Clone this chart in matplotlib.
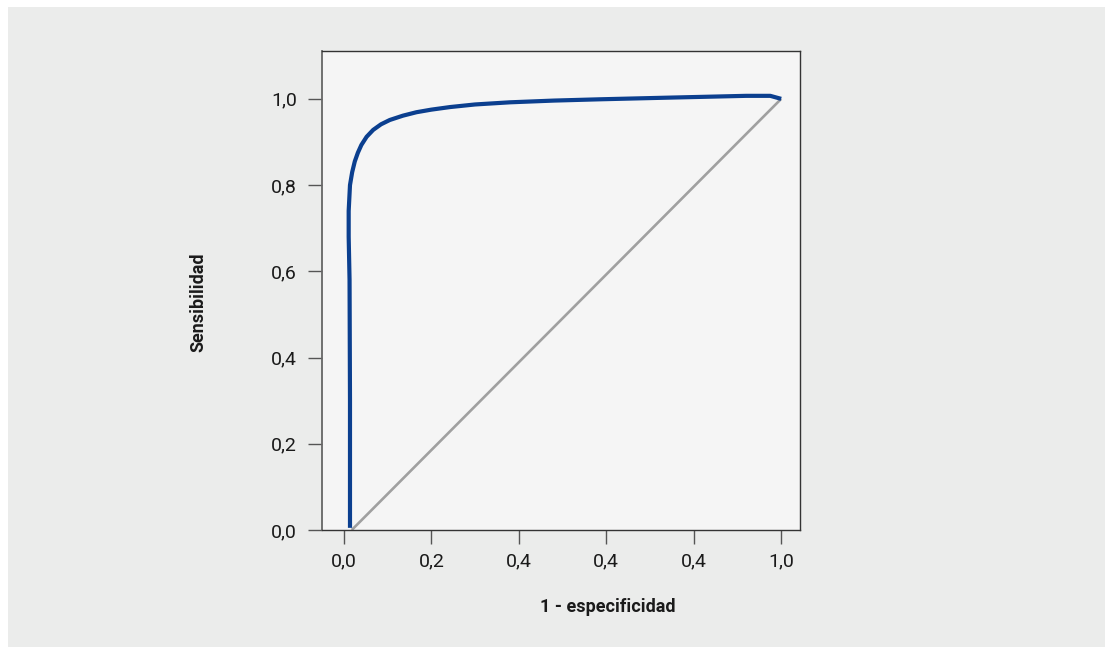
import matplotlib
matplotlib.use('Agg')
import matplotlib.pyplot as plt
from matplotlib.patches import Rectangle

# ROC curve
fpr = [0.014, 0.014, 0.013, 0.011, 0.011, 0.014, 0.019, 0.025, 0.032, 0.040, 0.052,
       0.067, 0.085, 0.105, 0.135, 0.166, 0.200, 0.243, 0.300, 0.380, 0.480, 0.586,
       0.75, 0.92, 0.975, 1.0]
tpr = [0.005, 0.30, 0.58, 0.68, 0.74, 0.80, 0.83, 0.855, 0.875, 0.893, 0.912,
       0.928, 0.941, 0.951, 0.961, 0.969, 0.975, 0.981, 0.987, 0.992, 0.996, 0.999,
       1.003, 1.007, 1.007, 1.0]
diag_x = [0.018, 1.0]
diag_y = [0.0, 1.0]

xticks = [0.0, 0.2, 0.4, 0.6, 0.8, 1.0]
xlabels = ['0,0', '0,2', '0,4', '0,4', '0,4', '1,0']
yticks = [0.0, 0.2, 0.4, 0.6, 0.8, 1.0]
ylabels = ['0,0', '0,2', '0,4', '0,6', '0,8', '1,0']

plt.rcParams['font.family'] = ['Roboto', 'DejaVu Sans']

fig = plt.figure(figsize=(11.05, 6.47), dpi=100)
fig.patch.set_facecolor('white')
fig.patches.append(Rectangle((8 / 1105, 0), 1, 1 - 7 / 647, transform=fig.transFigure,
                             facecolor='#ebeceb', edgecolor='none', zorder=-10))

ax = fig.add_axes([322 / 1105, 117 / 647, 478 / 1105, 479 / 647])
ax.set_facecolor('#f5f5f5')

ax.plot(diag_x, diag_y, color='#a0a0a0', lw=1.9, solid_capstyle='butt')
ax.plot(fpr, tpr, color='#0b3f8f', lw=3.0, solid_joinstyle='round', solid_capstyle='butt')

ax.set_xlim(-0.05, 1.043)
ax.set_ylim(0, 1.111)

ax.set_xticks(xticks)
ax.set_xticklabels(xlabels)
ax.set_yticks(yticks)
ax.set_yticklabels(ylabels)
ax.tick_params(axis='both', direction='out', length=10, width=1, color='#555555',
               labelsize=14, labelcolor='#1a1a1a')
ax.tick_params(axis='x', pad=6)
ax.tick_params(axis='y', pad=8)

for s in ['top', 'right', 'bottom']:
    ax.spines[s].set_color('#333333')
    ax.spines[s].set_linewidth(1.0)
ax.spines['left'].set_color('#666666')
ax.spines['left'].set_linewidth(1.3)

fig.text(608 / 1105, 1 - 607 / 647, '1 - especificidad', ha='center', va='center',
         fontsize=13, fontweight='bold', color='#1a1a1a')
fig.text(198 / 1105, 1 - 302 / 647, 'Sensibilidad', ha='center', va='center',
         rotation=90, fontsize=13, fontweight='bold', color='#1a1a1a')

fig.savefig('out.png', dpi=100)
